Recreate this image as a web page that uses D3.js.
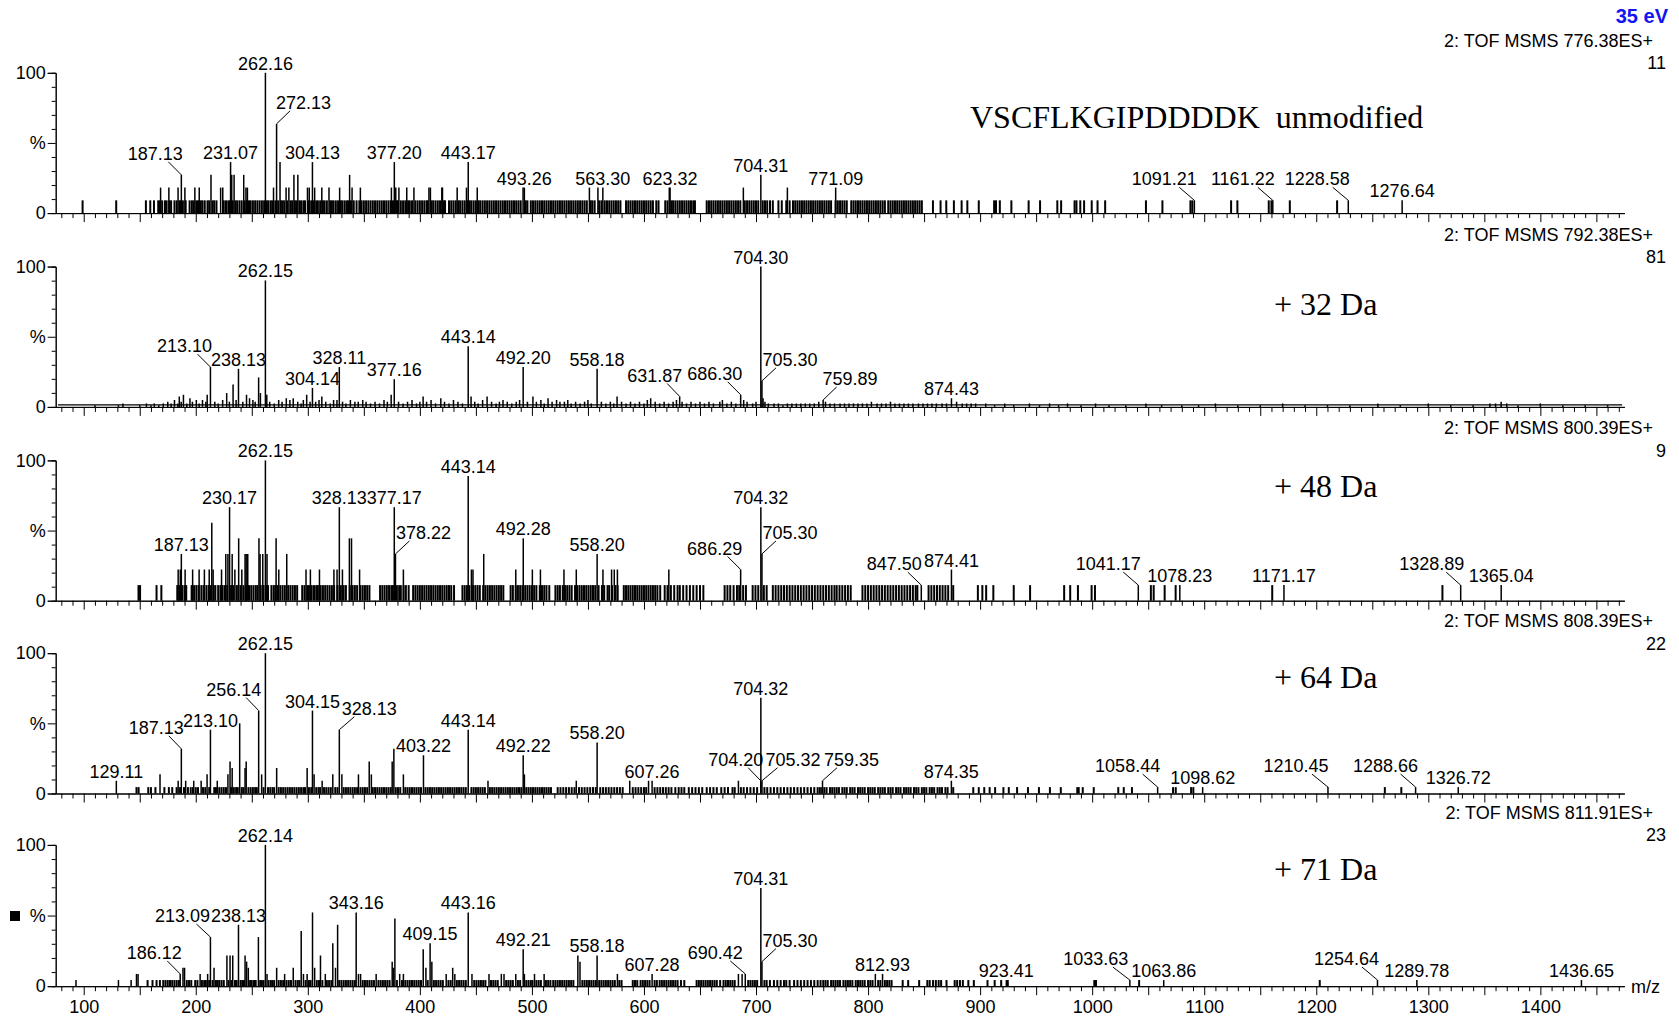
<!DOCTYPE html>
<html>
<head>
<meta charset="utf-8">
<script src="https://cdn.jsdelivr.net/npm/d3@7"></script>
<style>
  html, body { margin: 0; padding: 0; background: #fff; }
  svg { display: block; }
  text { font-family: "Liberation Sans", Arial, sans-serif; fill: #000; }
  .title { font-family: "Liberation Serif", "Times New Roman", serif; white-space: pre; }
</style>
</head>
<body>
<svg id="chart" width="1679" height="1016"></svg>
<script>
// ---- spectra: precursor, base-peak counts and annotation ----
const precursors = ["776.38", "792.38", "800.39", "808.39", "811.91"];
const basePeakCounts = [11, 81, 9, 22, 23];
const spectrumTitles = ["VSCFLKGIPDDDDK  unmodified", "+ 32 Da", "+ 48 Da", "+ 64 Da", "+ 71 Da"];
const energyLabel = "35 eV";
const mzDomain = [75, 1475];
const xTickLabels = [100, 200, 300, 400, 500, 600, 700, 800, 900, 1000, 1100, 1200, 1300, 1400];

// peaks: [m/z, counts, labelled]
const peaks1 = [[168.6,2],[176,2],[184.2,2],[187.13,3,1],[190.3,2],[199.2,2],[203.1,2],[213.6,3],[222.2,2],[224.1,2],
  [231.07,4,1],[232.1,3],[234.2,3],[242.8,3],[244.8,2],[246.1,2],[262.16,11,1],[269.4,2],[272.13,7,1],[275.2,4],
  [280.6,2],[283.1,2],[287.6,3],[291.1,3],[299.7,2],[301.3,2],[304.13,4,1],[306.1,2],[312.5,2],[318.9,2],[328.4,2],
  [337.3,3],[339.5,2],[346.9,2],[374.6,2],[377.20,4,1],[378.5,2],[381.3,2],[388.3,2],[394.7,2],[408.1,2],[409.4,2],
  [419.6,2],[420.2,2],[433.3,2],[441.6,2],[443.17,4,1],[451.2,2],[492.1,2],[493.26,2,1],[551.3,2],[558.9,2],
  [563.30,2,1],[622.6,2],[623.32,2,1],[688.7,2],[704.31,3,1],[728,2],[771.09,2,1],[1091.21,1,1],[1161.22,1,1],
  [1228.58,1,1],[1276.64,1,1]];
const noise1 = [99,129,155.5,159.4,162.7,166.5,168,170,172.5,174,176.5,178,181,183,185.5,186.5,188.5,191,194.5,196.5,198,
  200.5,202,204.5,206,208,210.5,212,215,216.5,218.5,225,227,229,230.5,233,235.5,237,239,241,243.5,245.5,247.5,249,251,
  253,255,257,259,261,263.5,265,267,268.5,271,273.5,276,277.5,279,281.5,284.5,286,288.5,290,292.5,294,296,297.5,300.5,
  303,305,307.5,309,311,313.5,315,317,320,321.5,323,325,327,329.5,331,333,335,336.5,338.5,341,343.5,346,348,350,352,
  354,356,358,360,362,364,366,368,370,372,374,376,379.5,380.5,383,385,387,389.5,391,393,396,398,400,402,404,406,407,
  410.5,412,414,416,418,421.5,422.5,426,428,430,432,434.5,436,438,440,442.5,444.5,446,448,450,452.5,454,456,458,460,
  462,464,466,468,470,472,474,476,478,480,482,484,486,488,490,494.5,496,499,501,503,505,507,509,511,513,515,517,519,
  521,523,525,527,529,531,533,535,537,539,541,543,545,547,549,552.5,554,556,560,562,565,567,569,571,573,575,577,579,
  584,586,588,590,592,594,596,598,600,602,604,606,608,611,613,619,621,624.5,626,628,630,632,634,636,638,640,642,644,
  645.5,656,658,660,662,664,666,668,670,672,674,676,678,680,682,684,686,690,692,694,696,698,700,702,706,708,710,
  712.5,715,720,723,727,730,733,735,737,739,741,743,745,747,749,751,753,755,757,759,761,763,765,767,771,773,775,
  777,779,781,785,787,789,791,793,795,797,799,801,803,805,807,809,811,813,815,818,820,822,824,826,828,830,832,834,
  836,838,840,842,844,846,848,857.9,864.7,869.8,876.6,883.5,888.6,898.8,912.5,914.2,917.6,927.9,943.3,953.5,968.9,
  972.3,984.3,986,989.4,992.8,999.6,1004.8,1011.6,1048,1062.7,1087.7,1089.4,1124,1129.6,1157.6,1160,1176.4,1218.6];

const peaks2 = [[185.3,6],[189,7],[194.8,5],[200.5,4],[210.2,7],[213.10,23,1],[227.6,8],[233.3,13],[238.13,22,1],
  [245.3,7],[256.1,17],[257.7,8],[262.15,73,1],[263.4,7],[280.8,5],[299,7],[304.14,11,1],[312.5,6],[326,4],
  [328.11,23,1],[374.4,7],[377.16,16,1],[402.9,6],[418.7,5],[443.14,35,1],[445.7,6],[460,6],[474.2,4],[492.20,23,1],
  [500.9,6],[514.4,5],[529,3],[558.18,22,1],[576,6],[606,5],[631.87,6,1],[667.7,3],[686.30,7,1],[704.30,81,1],
  [705.30,15,1],[706.3,5],[759.89,4,1],[874.43,5,1],[1003,2]];
// low-level trace of the +32 Da spectrum: [m/z, counts]
const noise2 = [[110,1],[131,1],[135,2],[150,1],[156,2],[160,1],[163,2],[167,1],[171,2],[175,3],[178,2],[181,4],[184,2],
  [187,3],[192,2],[197,3],[203,2],[206,4],[209,3],[217,3],[220,2],[224,4],[230,3],[236,4],[242,3],[248,5],[251,4],
  [253,3],[266,3],[270,2],[274,4],[277,3],[284,4],[287,5],[291,3],[294,2],[296,4],[302,3],[307,3],[310,4],[316,3],
  [320,2],[323,4],[331,3],[334,2],[338,4],[342,3],[345,3],[349,4],[352,3],[356,2],[360,3],[364,2],[368,4],[371,3],
  [381,3],[385,2],[389,3],[393,4],[397,2],[400,3],[406,3],[410,4],[414,2],[422,3],[426,2],[430,4],[434,3],[438,2],
  [449,3],[452,2],[456,4],[464,3],[468,2],[471,3],[478,3],[482,2],[486,3],[489,4],[496,3],[504,3],[508,4],[511,2],
  [518,3],[522,4],[525,3],[532,4],[535,2],[539,3],[543,2],[547,3],[550,4],[553,2],[562,3],[566,2],[570,3],[573,2],
  [580,3],[584,2],[588,3],[592,2],[596,3],[600,2],[603,4],[610,3],[614,2],[618,3],[622,2],[626,3],[629,4],[634,3],
  [638,2],[642,3],[646,2],[650,3],[654,2],[658,3],[662,2],[670,4],[674,2],[678,3],[682,2],[689,4],[692,3],[697,2],
  [700,3],[708,3],[711,2],[716,2],[720,2],[724,1],[728,2],[732,2],[736,2],[740,2],[744,2],[748,2],[752,2],[756,3],
  [762,3],[766,2],[770,2],[775,2],[779,2],[783,2],[787,2],[791,2],[795,2],[799,2],[803,3],[808,2],[812,2],[816,2],
  [820,3],[824,2],[828,2],[832,2],[836,2],[840,2],[845,2],[849,2],[853,2],[857,2],[861,2],[866,2],[870,2],[879,3],
  [884,2],[888,2],[892,2],[896,2],[905,2],[913,1],[922,2],[930,1],[944,2],[953,1],[962,2],[970,1],[978,2],[990,1],
  [1015,1],[1030,1],[1048,2],[1062,1],[1080,1],[1095,1],[1110,2],[1130,1],[1150,1],[1170,2],[1190,1],[1210,1],
  [1230,1],[1255,2],[1275,1],[1300,2],[1320,1],[1340,1],[1355,2],[1360,2],[1365,3],[1370,2],[1380,1],[1400,2],
  [1420,1],[1440,1],[1460,1]];
const baseline2 = [[77,1.2],[1473,1.2]];

const peaks3 = [[184.3,2],[186.2,2],[187.13,3,1],[190.5,2],[197.2,2],[203,2],[207.7,2],[212,2],[214.3,5],[215.5,2],
  [223,2],[226.8,3],[228.7,3],[230.17,6,1],[232.5,3],[234.9,2],[238.3,4],[241.1,2],[244,3],[245,3],[246.4,3],
  [256.4,4],[257.4,3],[259.8,3],[262.15,9,1],[263.6,3],[271.7,4],[274.1,2],[281.2,3],[298.4,2],[302.3,2],[310.4,2],
  [323.3,2],[326.1,2],[328.13,6,1],[330.9,2],[337.1,4],[339,4],[346.2,2],[377.17,6,1],[378.22,3,1],[385.3,2],
  [443.14,8,1],[446,2],[447.4,2],[457,3],[485.6,2],[492.28,4,1],[500.4,2],[507.6,2],[528.6,2],[539.6,2],
  [558.20,3,1],[563.4,2],[571.1,2],[573.5,2],[576.3,2],[622.2,2],[686.29,2,1],[704.32,6,1],[705.30,3,1],
  [847.50,1,1],[874.41,2,1],[1041.17,1,1],[1078.23,1,1],[1171.17,1,1],[1328.89,1,1],[1365.04,1,1]];
const noise3 = [148.9,150.3,165,169.3,183.5,185.5,188,190,191.5,196.3,198.5,200.5,202.5,205,207,209.5,211.5,213,216,
  217.5,220,222,224,226,228,231.5,233.5,236.5,238,240,242.5,244.8,247.5,249.5,251.5,253.5,255,258,260.5,262.8,264.5,
  267.5,269.5,271,273,275.5,277.5,279.5,282.5,284.5,286.5,288.5,290.5,295,297,299.5,301,303.5,305.5,307.5,309,311.5,
  313.5,315.5,317.5,319.5,321.5,323.5,326.5,329.5,332,334,337.5,340,342,344,347,349,351,353,355,364.5,366.5,368.5,
  370.5,372.5,374.5,376,379.5,381.5,383,385.5,387.5,390,394,396,398,400,402,404,406,408,410,412,414,416,418,420,422,
  424,426,428,430.5,438,440,442,444.2,447.5,449.5,451.5,453.5,456.5,458.5,460.5,462.5,464.5,466.5,468.5,470.5,472.5,
  474.5,481,483,485.5,487.5,489.5,491.5,494,496,498,500,502,504,507,509,511,513,515.5,521,523,525,527.5,529.5,531.5,
  533.5,535.5,538.5,540.5,542.5,544.5,546.5,548.5,550.5,552.5,554.5,556.5,559.5,562.5,564.5,567.5,569,571.5,574.5,
  576.5,582,584,586,588,590,592,594,596,598,600,602,604,606,608,610,612,614.5,618.5,621,624,627,630,632,635,638,641,
  644,647,650,653,672,674.5,677,680,683,685,688.5,691,697,699.5,702,707,709.5,715,717.5,720,722.5,725,727.5,730,
  732.5,735,737.5,740,742.5,745,747.5,750,752.5,755,757.5,760,762.5,765,767.5,770,772,774.5,777,779.5,782,784.5,795,
  797.5,800,802.5,805,807.5,810,812.5,815,817.5,820,822.5,825,827.5,830,832.5,835,837.5,840,842.5,844,854,856.5,859,
  861.5,864,866.5,869,871.5,876,898,902,905.4,911.8,930,944.6,975,980.4,987.3,999.5,1002.5,1052.4,1054.9,1064.7,
  1074.5,1160.7,1312.6];

const peaks4 = [[129.11,2,1],[168.1,3],[184.3,2],[187.13,7,1],[191,2],[198.2,2],[204.8,2],[210.1,3],[213.10,10,1],
  [219.2,2],[228.7,3],[230.6,5],[232.5,4],[239.2,11],[244,4],[245,5],[256.14,13,1],[258.8,3],[262.15,22,1],[272.2,4],
  [299.4,4],[304.15,13,1],[305.6,3],[312.8,2],[322.3,3],[328.13,10,1],[330.4,3],[345.2,3],[354.8,5],[356.7,3],
  [375.3,5],[376.8,7],[385.3,3],[403.22,6,1],[443.14,10,1],[460.8,2],[492.22,6,1],[493.3,3],[539.6,2],[558.20,8,1],
  [587.3,2],[604.1,2],[607.26,2,1],[684.3,2],[704.20,2,1],[704.32,15,1],[705.32,2,1],[759.35,2,1],[874.35,2,1],
  [1058.44,1,1],[1098.62,1,1],[1210.45,1,1],[1288.66,1,1],[1326.72,1,1]];
const noise4 = [147.1,149,157.6,160,164,172,176,179,182.9,186,189.5,193,195.5,197.5,200,202,206.5,208.5,212,216.5,218,
  221,223,225,227,231.5,234,236,237.5,241,242.5,247,249,251,253,254.5,260.5,264.5,266.5,268.5,270,274,276,278,280,282,
  284,286,288,290,292,294,296,297.5,301,303,307.5,309.5,311,314.5,316.5,318.5,320.5,324.5,326.5,332,334,336,338,340,
  342,344,347,349,351,353,358,360,362,364,366,368,370,372,374,378.5,380.5,382.5,387,389,391,393,395,397,399,401,405,
  407,409,411,413,415,417,419,421,423,425,427,429,431,433,435,437,439,441,446,448,450,452,454,456,458,462.5,464.5,
  466.5,468.5,470.5,472.5,474.5,476.5,478.5,480.5,482.5,484.5,486.5,488.5,490.5,495,497,499,501,503,505,507,509,511,
  513,515,517,523,525.5,528,530.5,533,535.5,538,542,544.5,547,549.5,552,554.5,557,561,563.5,566,568.5,571,573.5,576,
  578.5,581,590,592.5,595,597.5,600,602,609.5,612,614.5,617,619.5,622,624.5,628,631,633.5,636,640,643,646,649,652,
  656,659,662,665,669,672,675,679,681,686.5,689,692,695,698,701,707.5,710,713,716,719,722,725,728,731,734,737,740,
  743,746,749,752,755,757,759,761,763,766,768,770,772,774,777,779,781,784,786,788,791,793,795,797,800,802,804,806,
  809,811,813,815,818,820,822,825,827,829,832,834,836,838,841,843,845,848,850,852,855,857,859,862,864,866,869,871,
  876,893.9,898.8,903.7,908.5,913.4,920.8,925.6,933,942.7,952.5,962.3,972,986.7,988,991.6,1001.4,1023.3,1028.2,
  1035.5,1072.2,1074.6,1088.3,1090.3,1261.2,1275.9];

const peaks5 = [[93.1,1],[131,1],[142.3,1],[147.1,2],[148.5,2],[186.12,2,1],[188.6,3],[190,3],[203.9,2],[210.6,2],
  [213.09,8,1],[216.3,3],[227.8,5],[230.6,5],[233,5],[238.13,10,1],[244,5],[245.4,4],[246.9,3],[255.9,8],
  [262.14,23,1],[263.6,2],[272.2,3],[279.3,2],[287,3],[294.1,9],[296.1,2],[299.4,2],[304.2,12],[306.1,3],[311.3,5],
  [315.6,2],[322.3,7],[324.7,3],[326.6,10],[343.16,12,1],[345.2,2],[347.1,2],[361,2],[375.3,4],[376.3,3],[377.7,11],
  [382,2],[385.3,2],[403,6],[405.4,3],[409.15,7,1],[410.7,4],[423.5,2],[429.3,3],[431.2,2],[443.16,12,1],[446.5,2],
  [461.7,2],[472.7,2],[475.1,2],[485.6,2],[492.21,6,1],[493.3,2],[502.3,2],[510.9,2],[541,5],[542.9,4],[558.18,5,1],
  [576.3,2],[607.28,2,1],[684.3,2],[687.6,2],[690.42,2,1],[704.31,16,1],[705.30,4,1],[806.5,2],[812.93,2,1],
  [923.41,1,1],[1033.63,1,1],[1063.86,1,1],[1254.64,1,1],[1289.78,1,1],[1436.65,1,1]];
const noise5 = [157,161.4,165,168,171,173,175,177,179,181,183,185,192,194,196,199.5,201.5,205.5,207.5,209,212,215,218,
  219.5,221,223,225,229.2,231.8,235,236.5,240,241.5,243,248.5,250,252,253.5,257.5,259,260.5,265,267,268.5,270,274,
  276,278,281,283,285,289,291,292.5,298,301,302.5,308,310,313,317,319,321,328,330,332,334,336,338,340,342,349,351,
  353,355,357,359,363,365,367,369,371,373,379.5,384,387,389,391,393,395,397,399,401,407,412.5,414.5,416.5,418.5,420.5,
  425.5,427.5,433,435,437,439,441,448.5,450.5,452.5,454.5,456.5,458.5,463.5,465.5,467.5,469.5,477,479,481,483,487.5,
  489.5,495,497,499,500.5,504,506,508,512.5,514.5,516.5,519,521,523,525,527,529,531,533,535,537,545,547,549,551,553,
  555,557,560,562,564,566,568,570,572,574,578,580,590,592,594,597,599,601,603,605,609.5,611.5,614,616,618,620,622,
  624,626,628,630,633,636,647,649,651,653,655,657,659,661,663,665,668,671,673,675,677,679,681,693,695,697,699,701,
  707.5,709.5,712.4,716,719,722,725,727,730,734,737,740,743,746,749,752,755,757.6,760,762,764,767,769,771,773,775,
  778,780,782,784,786,789,791,793,795,797,800,802,804,809,811,815,817,819,821,830.9,835.8,845.6,852.9,855,858,860.5,
  863,865.2,870,877.3,879.5,882,884.6,889.5,894.4,906.6,913,918.8,924.7,1001.9,1003.4,1041.9,1203.1];

// ---- layout ----
const W = 1679, H = 1016;
const plotLeft = 55.7, plotRight = 1624.4;
const panelTops = [72.8, 266.6, 460.4, 653.2, 844.9];
const panelBottoms = [213.1, 406.9, 600.7, 793.5, 986.2];
const titlePos = [[970, 128.3], [1274, 314.6], [1274, 496.6], [1274, 688.3], [1274, 880]];
// horizontal offset (px) for peak labels pulled aside with a leader line
const labelShift = [
  {"187.13": -26, "272.13": 27, "1091.21": -30, "1161.22": -30, "1228.58": -31},
  {"213.10": -26, "631.87": -25, "686.30": -26, "705.30": 28, "759.89": 27},
  {"378.22": 28, "686.29": -26, "705.30": 28, "847.50": -27, "1041.17": -30, "1328.89": -29},
  {"187.13": -25, "256.14": -25, "328.13": 30, "704.20": -25, "705.32": 31, "759.35": 29,
   "1058.44": -30, "1210.45": -32, "1288.66": -30},
  {"186.12": -26, "213.09": -28, "690.42": -30, "705.30": 28, "1033.63": -34, "1254.64": -31}
];
const fontSize = 18;
const stickWidth = 1.5, noiseWidth = 2;

const spectra = [
  {peaks: peaks1, noise: noise1.map(m => [m, 1])},
  {peaks: peaks2, noise: noise2, baseline: baseline2},
  {peaks: peaks3, noise: noise3.map(m => [m, 1])},
  {peaks: peaks4, noise: noise4.map(m => [m, 1])},
  {peaks: peaks5, noise: noise5.map(m => [m, 1])}
];

const svg = d3.select("#chart");
svg.append("rect").attr("width", W).attr("height", H).attr("fill", "#fff");

const x = d3.scaleLinear().domain(mzDomain).range([plotLeft, plotRight]);
const fmt = d3.format(".2f");

const minorX = d3.range(80, 1475, 10).filter(v => v % 50 !== 0);
const majorX = d3.range(100, 1475, 50);

svg.append("text")
  .attr("x", 1668).attr("y", 22.5)
  .attr("text-anchor", "end")
  .attr("font-size", 20).attr("font-weight", "bold")
  .style("fill", "#1414f0")
  .text(energyLabel);

spectra.forEach((s, i) => {
  const top = panelTops[i], bottom = panelBottoms[i];
  const maxC = basePeakCounts[i];
  const y = d3.scaleLinear().domain([0, maxC]).range([bottom, top]);
  const yPct = d3.scaleLinear().domain([0, 100]).range([bottom, top]);
  const g = svg.append("g");

  // header: function, precursor and base-peak intensity
  g.append("text").attr("x", 1653).attr("y", top - 26).attr("text-anchor", "end")
    .attr("font-size", fontSize).text(`2: TOF MSMS ${precursors[i]}ES+`);
  g.append("text").attr("x", 1666).attr("y", top - 3.5).attr("text-anchor", "end")
    .attr("font-size", fontSize).text(basePeakCounts[i]);

  g.append("text").attr("class", "title")
    .attr("x", titlePos[i][0]).attr("y", titlePos[i][1])
    .attr("font-size", 32).text(spectrumTitles[i]);

  // continuum baseline
  if (s.baseline) {
    g.append("path")
      .attr("d", d3.line().x(d => x(d[0])).y(d => y(d[1]))(s.baseline))
      .attr("fill", "none").attr("stroke", "#000").attr("stroke-width", 1.2);
  }

  // low-level signal
  g.append("g").selectAll("line").data(s.noise).join("line")
    .attr("x1", d => x(d[0])).attr("x2", d => x(d[0]))
    .attr("y1", y(0)).attr("y2", d => y(d[1]))
    .attr("stroke", "#000").attr("stroke-width", i === 1 ? stickWidth : noiseWidth);

  // peaks
  g.append("g").selectAll("line").data(s.peaks).join("line")
    .attr("x1", d => x(d[0])).attr("x2", d => x(d[0]))
    .attr("y1", y(0)).attr("y2", d => y(d[1]))
    .attr("stroke", "#000").attr("stroke-width", stickWidth);

  // peak labels
  const labelled = s.peaks.filter(d => d[2]);
  labelled.forEach(d => {
    const txt = fmt(d[0]);
    const dx = labelShift[i][txt] || 0;
    const sx = x(d[0]), sy = y(d[1]);
    const lx = sx + dx;
    const base = dx ? sy - 15 : sy - 3;
    g.append("text").attr("x", lx).attr("y", base).attr("text-anchor", "middle")
      .attr("font-size", fontSize).text(txt);
    if (dx) {
      g.append("line")
        .attr("x1", lx + dx * -0.5).attr("y1", base + 2)
        .attr("x2", sx).attr("y2", sy)
        .attr("stroke", "#000").attr("stroke-width", 1);
    }
  });

  // y axis
  const yMinor = g.append("g").attr("transform", `translate(${plotLeft},0)`)
    .call(d3.axisLeft(yPct).tickValues([10,20,30,40,60,70,80,90]).tickSize(4).tickFormat(""));
  const yMajor = g.append("g").attr("transform", `translate(${plotLeft},0)`)
    .call(d3.axisLeft(yPct).tickValues([0, 50, 100]).tickSize(8).tickPadding(2)
      .tickFormat(v => v === 50 ? "%" : String(v)));
  [yMinor, yMajor].forEach(a => {
    a.attr("font-family", null).attr("font-size", fontSize);
    a.select(".domain").attr("stroke-width", 1);
  });

  // x axis
  const xMinor = g.append("g").attr("transform", `translate(0,${bottom})`)
    .call(d3.axisBottom(x).tickValues(minorX).tickSize(5).tickSizeOuter(0).tickFormat(""));
  const xMajor = g.append("g").attr("transform", `translate(0,${bottom})`)
    .call(d3.axisBottom(x).tickValues(majorX).tickSize(9).tickSizeOuter(0).tickPadding(5)
      .tickFormat(v => (i === 4 && xTickLabels.includes(v)) ? String(v) : ""));
  [xMinor, xMajor].forEach(a => a.attr("font-family", null).attr("font-size", fontSize));

  if (i === 4) {
    g.append("text").attr("x", 1631).attr("y", bottom + 6.5).attr("font-size", fontSize).text("m/z");
    g.append("rect").attr("x", 10).attr("y", 911).attr("width", 10).attr("height", 10).attr("fill", "#000");
  }
});
</script>
</body>
</html>
